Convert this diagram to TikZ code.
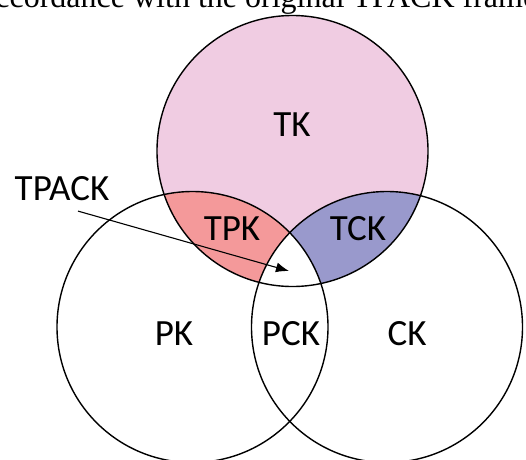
\documentclass[tikz,border=0pt]{standalone}
\usepackage{fontspec}
\setmainfont{Liberation Serif}
\newfontfamily\labelfont{Carlito}
\usetikzlibrary{arrows.meta}

\definecolor{tkpink}{RGB}{240,204,226}
\definecolor{tpkred}{RGB}{244,153,154}
\definecolor{tckblue}{RGB}{153,153,204}

\tikzset{
  ring/.style={draw=black,line width=1.4pt},
  area/.style={inner sep=0.75pt,font=\labelfont\fontsize{37}{40}\selectfont},
  pointer/.style={line width=1.1pt,-{Latex[length=13pt,width=10pt]}}
}

\begin{document}
\begin{tikzpicture}[x=1pt,y=1pt,yscale=-1]
    \useasboundingbox (0,0) rectangle (526,459);
    \clip (0,0) rectangle (526,459);

    % centres
    \coordinate (tc) at (292.5,151);
    \coordinate (pc) at (192.5,327);
    \coordinate (cc) at (387,327);

    %Shape: Circle fills
    \fill [tkpink] (tc) circle (135.5);
    \begin{scope}
      \clip (tc) circle (135.5);
      \fill [tpkred] (pc) circle (135.5);
      \fill [tckblue] (cc) circle (135.5);
      \clip (pc) circle (135.5);
      \fill [white] (cc) circle (135.5);
    \end{scope}

    %Shape: Circle outlines
    \draw [ring] (tc) circle (135.5);
    \draw [ring] (pc) circle (135.5);
    \draw [ring] (cc) circle (135.5);

    % Text Node
    \node [anchor=base west,inner sep=0pt,font=\fontsize{32}{36}\selectfont] (caption) at (-19,7) {accordance with the original TPACK framework};
    % Text Node
    \node [area] (tk) at (292,125) {TK};
    % Text Node
    \node [area] (tpk) at (232,229) {TPK};
    % Text Node
    \node [area] (tck) at (358,229) {TCK};
    % Text Node
    \node [area] (tpack) at (62,189) {TPACK};
    % Text Node
    \node [area] (pk) at (174,334) {PK};
    % Text Node
    \node [area] (pck) at (291,334) {PCK};
    % Text Node
    \node [area] (ck) at (407,334) {CK};

    %Straight Lines
    \coordinate (core) at (289,271);
    \draw [pointer] (tpack.south) ++(16,9) -- (core);

\end{tikzpicture}
\end{document}
